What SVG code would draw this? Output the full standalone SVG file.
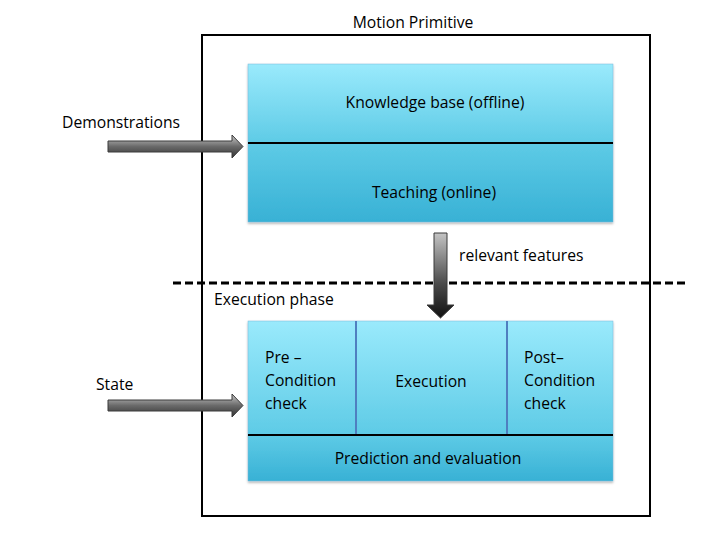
<svg xmlns="http://www.w3.org/2000/svg" width="720" height="540" viewBox="0 0 720 540">
<defs>
<linearGradient id="cyanTop" x1="0" y1="0" x2="0" y2="1">
<stop offset="0" stop-color="#9aeafc"/>
<stop offset="1" stop-color="#5ecbe6"/>
</linearGradient>
<linearGradient id="cyanBot" x1="0" y1="0" x2="0" y2="1">
<stop offset="0" stop-color="#5ecbe6"/>
<stop offset="1" stop-color="#38b1d5"/>
</linearGradient>
<linearGradient id="grayH" x1="0" y1="0" x2="0" y2="1">
<stop offset="0" stop-color="#c8c8c8"/>
<stop offset="0.5" stop-color="#6a6a6a"/>
<stop offset="1" stop-color="#333333"/>
</linearGradient>
<linearGradient id="grayV" x1="0" y1="0" x2="0" y2="1">
<stop offset="0" stop-color="#c4c4c4"/>
<stop offset="0.6" stop-color="#4a4a4a"/>
<stop offset="1" stop-color="#111111"/>
</linearGradient>
<filter id="sh" x="-10%" y="-10%" width="120%" height="130%">
<feDropShadow dx="0" dy="1.5" stdDeviation="1.2" flood-color="#000" flood-opacity="0.3"/>
</filter>
</defs>
<style>
text{font-family:"Open Sans","Liberation Sans",sans-serif;font-size:15.7px;fill:#000}
.c{text-anchor:middle}
.frame{fill:none;stroke:#000;stroke-width:2}
.arrow{stroke:#3a3a3a;stroke-width:1}
.cell{stroke:#7ab8d8;stroke-width:0.5}
</style>
<rect width="720" height="540" fill="#fff"/>
<g id="frame">
<rect class="frame" x="202" y="35" width="448" height="481"/>
<text class="c" x="413" y="28">Motion Primitive</text>
</g>
<g id="divider">
<line x1="173" y1="283" x2="688" y2="283" stroke="#000" stroke-width="3" stroke-dasharray="8,4"/>
</g>
<g id="knowledge">
<g filter="url(#sh)">
<rect class="cell" x="248" y="64" width="365" height="79" fill="url(#cyanTop)"/>
<rect class="cell" x="248" y="143" width="365" height="79" fill="url(#cyanBot)"/>
</g>
<line x1="248" y1="143" x2="613" y2="143" stroke="#000" stroke-width="2"/>
<text class="c" x="435" y="108">Knowledge base (offline)</text>
<text class="c" x="434" y="198">Teaching (online)</text>
</g>
<g id="execution-block">
<g filter="url(#sh)">
<rect class="cell" x="248" y="321" width="365" height="114" fill="url(#cyanTop)"/>
<rect class="cell" x="248" y="435" width="365" height="46" fill="url(#cyanBot)"/>
</g>
<line x1="356" y1="321" x2="356" y2="435" stroke="#4f7fc0" stroke-width="2"/>
<line x1="507" y1="321" x2="507" y2="435" stroke="#4f7fc0" stroke-width="2"/>
<line x1="248" y1="435" x2="613" y2="435" stroke="#000" stroke-width="2"/>
<g id="precondition">
<text x="265" y="363">Pre –</text>
<text x="265" y="386">Condition</text>
<text x="265" y="409">check</text>
</g>
<g id="execution">
<text class="c" x="431" y="387">Execution</text>
</g>
<g id="postcondition">
<text x="524" y="363">Post–</text>
<text x="524" y="386">Condition</text>
<text x="524" y="409">check</text>
</g>
<g id="prediction">
<text class="c" x="428" y="464">Prediction and evaluation</text>
</g>
</g>
<g id="labels">
<text x="62" y="128">Demonstrations</text>
<text x="96" y="390">State</text>
<text x="459" y="261">relevant features</text>
<text x="214" y="305">Execution phase</text>
</g>
<g id="connectors">
<polygon class="arrow" points="108,141 232,141 232,135 243,146.5 232,158 232,152 108,152" fill="url(#grayH)"/>
<polygon class="arrow" points="108,400 232,400 232,394 243,405.5 232,417 232,411 108,411" fill="url(#grayH)"/>
<polygon class="arrow" points="434,233 447,233 447,305 454,305 440.5,318 427,305 434,305" fill="url(#grayV)"/>
</g>
</svg>
